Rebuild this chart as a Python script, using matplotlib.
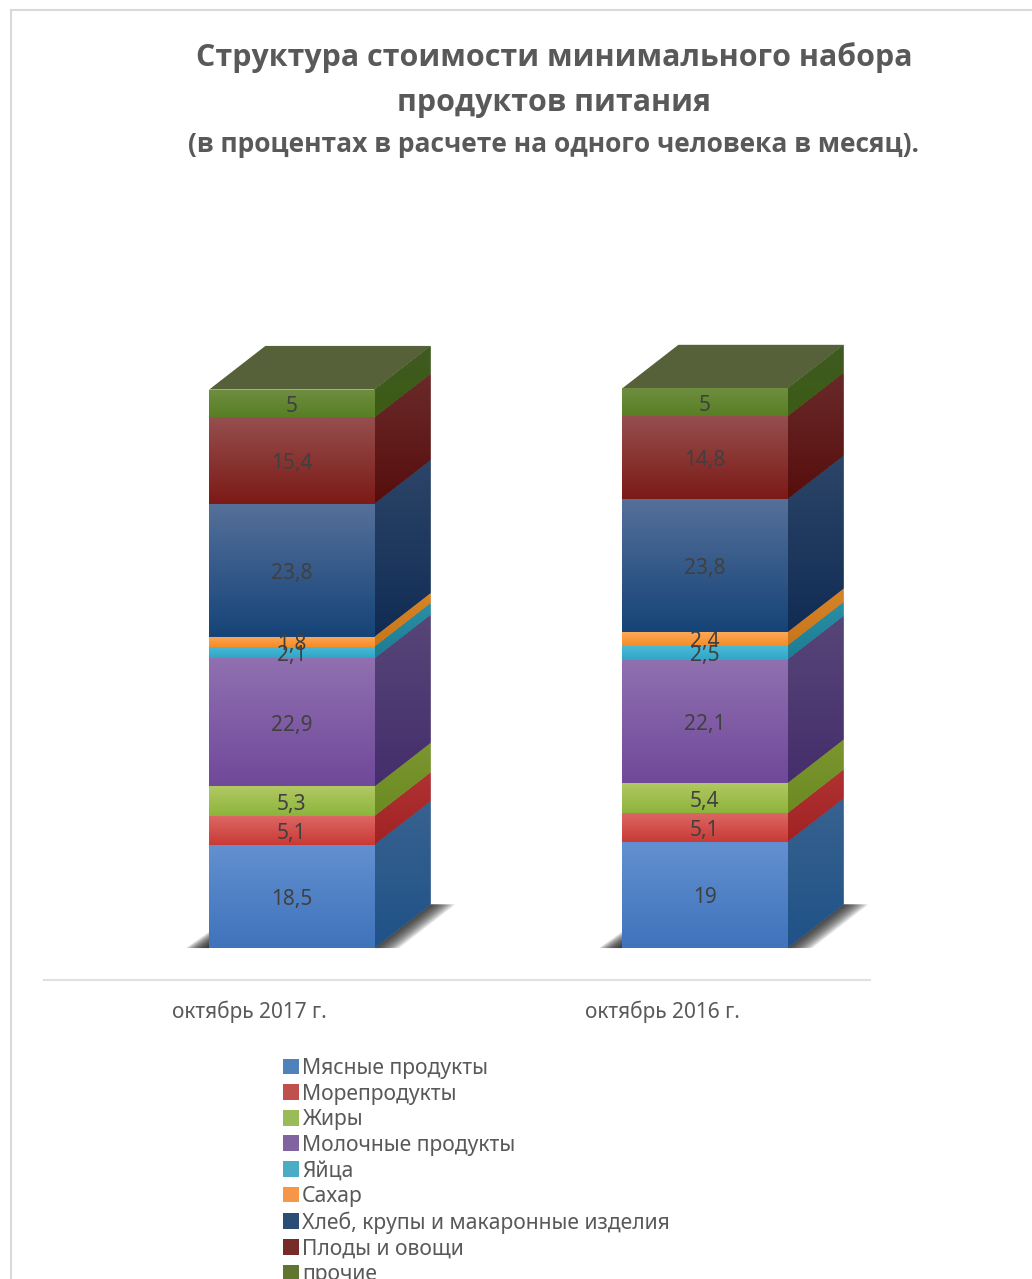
"""
Structure of the minimum food basket cost, drawn as 3D looking stacked bars.
"""
#Imports
import numpy as np
import matplotlib
matplotlib.use("Agg")
import matplotlib.pyplot as plt
from matplotlib.colors import to_rgb
from matplotlib.patches import Patch, Polygon, Rectangle

# Data
periods = ["октябрь 2017 г.", "октябрь 2016 г."]
groups = ["Мясные продукты", "Морепродукты", "Жиры", "Молочные продукты", "Яйца",
          "Сахар", "Хлеб, крупы и макаронные изделия", "Плоды и овощи", "прочие"]
values_2017 = [18.5, 5.1, 5.3, 22.9, 2.1, 1.8, 23.8, 15.4, 5]
values_2016 = [19, 5.1, 5.4, 22.1, 2.5, 2.4, 23.8, 14.8, 5]

# Colours: front top, front bottom, side top, side bottom, legend
front_top = ["#6390d0", "#dc6763", "#b2c963", "#9070b0", "#4cbad6", "#fca85a", "#55709a", "#954f4e", "#6e8e40"]
front_bottom = ["#3f73bb", "#c93a36", "#8cb43c", "#70499a", "#2ea6c6", "#f68c24", "#164478", "#7c1a16", "#587f24"]
side_top = ["#38628f", "#b03232", "#7c9630", "#574678", "#2a8fa6", "#d88428", "#2c4568", "#6a2a2a", "#3f5a22"]
side_bottom = ["#1f5288", "#a02222", "#6c8a22", "#452e6c", "#1c7c92", "#c87418", "#112c54", "#560e0c", "#3c5c14"]
legend_colors = ["#4f81bd", "#c0504d", "#9bbb59", "#8064a2", "#4bacc6", "#f79646", "#2c4d75", "#772c2a", "#5f7530"]
roof_color = "#566039"
text_color = "#595959"
label_color = "#404040"
axis_color = "#e0e0e0"

# Size of the fake depth, in data units
depth_x = 0.136
depth_y = 7.8
bar_width = 0.4
# Category labels sit left of the bar centres in the original
tick_shift = -0.103


def vertical_gradient(ax, patch, bbox, color_top, color_bottom, zorder):
    """Paint a top to bottom gradient inside a patch."""
    rows = np.linspace(to_rgb(color_top), to_rgb(color_bottom), 64).reshape(64, 1, 3)
    image = ax.imshow(rows, extent=bbox, aspect="auto", zorder=zorder, interpolation="bilinear")
    image.set_clip_path(patch)


def draw_shadow(ax, pos):
    """Soft floor shadow on both sides of the bar, built from thin layers."""
    left = pos - bar_width / 2
    right = pos + bar_width / 2
    for grow in np.linspace(1.0, 0.1, 14):
        ax.add_patch(Polygon([(left - 0.056 * grow, 0), (left, 2.9 * grow), (left, 0)],
                             facecolor="#202020", alpha=0.13, edgecolor="none", zorder=1))
        ax.add_patch(Polygon([(right, 0), (right + depth_x, depth_y),
                              (right + depth_x + 0.06 * grow, depth_y),
                              (right + 0.06 * grow, 0)],
                             facecolor="#202020", alpha=0.1, edgecolor="none", zorder=1))


def draw_column(ax, pos, values):
    """One stacked column with its side and roof."""
    left = pos - bar_width / 2
    right = pos + bar_width / 2
    draw_shadow(ax, pos)

    bottom = 0
    for i, value in enumerate(values):
        top = bottom + value
        front = ax.bar(pos, value, bar_width, bottom=bottom, color=front_bottom[i], zorder=3)[0]
        vertical_gradient(ax, front, (left, right, bottom, top), front_top[i], front_bottom[i], 3.1)

        side = Polygon([(right, bottom), (right + depth_x, bottom + depth_y),
                        (right + depth_x, top + depth_y), (right, top)],
                       facecolor=side_bottom[i], edgecolor="none", zorder=2)
        ax.add_patch(side)
        vertical_gradient(ax, side, (right, right + depth_x, bottom, top + depth_y),
                          side_top[i], side_bottom[i], 2.1)

        ax.annotate(str(value).replace(".", ","), (pos, bottom + value / 2), xytext=(0, -2.2),
                    textcoords="offset points", ha="center", va="center",
                    fontsize=15, color=label_color, family="Noto Sans", zorder=5)
        bottom = top

    ax.add_patch(Polygon([(left, bottom), (left + depth_x, bottom + depth_y),
                          (right + depth_x, bottom + depth_y), (right, bottom)],
                         facecolor=roof_color, edgecolor="none", zorder=2))


def main():
    fig = plt.figure(figsize=(10.32, 12.79), dpi=100)

    # Light frame of the chart area, kept behind the axes
    fig.add_artist(Rectangle((11 / 1032, -0.01), 1.1, 1.01 - 10 / 1279, transform=fig.transFigure,
                             facecolor="white", edgecolor="#d9d9d9", linewidth=1.5, zorder=-1))

    ax = fig.add_axes([44 / 1032, 299 / 1279, 826 / 1032, 650 / 1279])
    ax.patch.set_alpha(0)

    draw_column(ax, 0, values_2017)
    draw_column(ax, 1, values_2016)

    ax.set_xlim(-0.6, 1.4)
    ax.set_ylim(-5.72, 110.55)
    ax.set_xticks([tick_shift, 1 + tick_shift])
    ax.set_xticklabels(periods, fontsize=15, color=text_color, family="Noto Sans")
    ax.tick_params(axis="x", length=0, pad=14.6)
    ax.set_yticks([])
    for name in ["top", "left", "right"]:
        ax.spines[name].set_visible(False)
    ax.spines["bottom"].set_color(axis_color)
    ax.spines["bottom"].set_linewidth(1.5)

    # Title lines
    fig.text(554 / 1032, 1 - 58 / 1279, "Структура стоимости минимального набора",
             ha="center", va="center", fontsize=21.9, fontweight="bold", color=text_color, family="Open Sans")
    fig.text(554 / 1032, 1 - 103 / 1279, "продуктов питания",
             ha="center", va="center", fontsize=21.9, fontweight="bold", color=text_color, family="Open Sans")
    fig.text(554 / 1032, 1 - 144 / 1279, "(в процентах в расчете на одного человека в месяц).",
             ha="center", va="center", fontsize=19, fontweight="bold", color=text_color, family="Open Sans")

    # Legend runs off the bottom of the picture, as in the original
    handles = [Patch(facecolor=c, edgecolor="none") for c in legend_colors]
    fig.legend(handles, groups, loc="upper left", bbox_to_anchor=(283 / 1032, 1 - 1058 / 1279),
               frameon=False, borderpad=0, borderaxespad=0, handlelength=0.76, handleheight=0.76,
               handletextpad=0.15, labelspacing=0.215, labelcolor=text_color,
               prop={"family": "Noto Sans", "size": 15.2})

    fig.savefig("out.png", dpi=100)


if __name__ == "__main__":
    main()
